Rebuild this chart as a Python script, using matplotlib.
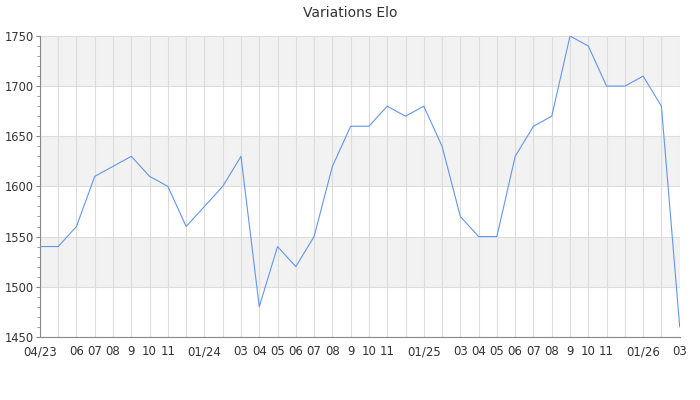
import matplotlib.pyplot as plt
from matplotlib.ticker import MultipleLocator

# Elo mensuel, 04/2023 -> 03/2026
mois = ['04/23', '', '06', '07', '08', '9', '10', '11', '', '01/24', '', '03',
        '04', '05', '06', '07', '08', '9', '10', '11', '', '01/25', '', '03',
        '04', '05', '06', '07', '08', '9', '10', '11', '', '01/26', '', '03']
elo = [1540, 1540, 1560, 1610, 1620, 1630, 1610, 1600, 1560, 1580, 1600, 1630,
       1480, 1540, 1520, 1550, 1620, 1660, 1660, 1680, 1670, 1680, 1640, 1570,
       1550, 1550, 1630, 1660, 1670, 1750, 1740, 1700, 1700, 1710, 1680, 1460]

x = list(range(len(elo)))

fig = plt.figure(figsize=(7, 4), dpi=100)
ax = fig.add_axes([0.057, 0.158, 0.914, 0.752])

# bandes grises alternées
for lo in (1500, 1600, 1700):
    ax.axhspan(lo, lo + 50, color='#f2f2f2', zorder=0, lw=0)

ax.plot(x, elo, color='#6495ed', lw=0.8, zorder=3)

ax.set_xlim(0, len(elo) - 1)
ax.set_ylim(1450, 1750)
ax.set_xticks(x)
ax.set_xticklabels(mois, fontsize=8.5, color='#333333')
ax.yaxis.set_major_locator(MultipleLocator(50))
ax.yaxis.set_minor_locator(MultipleLocator(10))
ax.tick_params(axis='y', labelsize=8.3, colors='#333333', length=3, width=0.8, pad=1.5)
ax.tick_params(axis='y', which='minor', length=2, color='#888888')
ax.tick_params(axis='y', which='major', color='#888888')
ax.tick_params(axis='x', length=0, pad=6)

ax.grid(True, color='#dddddd', lw=0.8, zorder=1)
ax.set_axisbelow(True)
for s in ('top', 'right'):
    ax.spines[s].set_visible(False)
for s in ('left', 'bottom'):
    ax.spines[s].set_color('#888888')
    ax.spines[s].set_linewidth(0.8)

fig.suptitle('Variations Elo', fontsize=10, color='#333333', y=0.985)

plt.savefig('out.png')
